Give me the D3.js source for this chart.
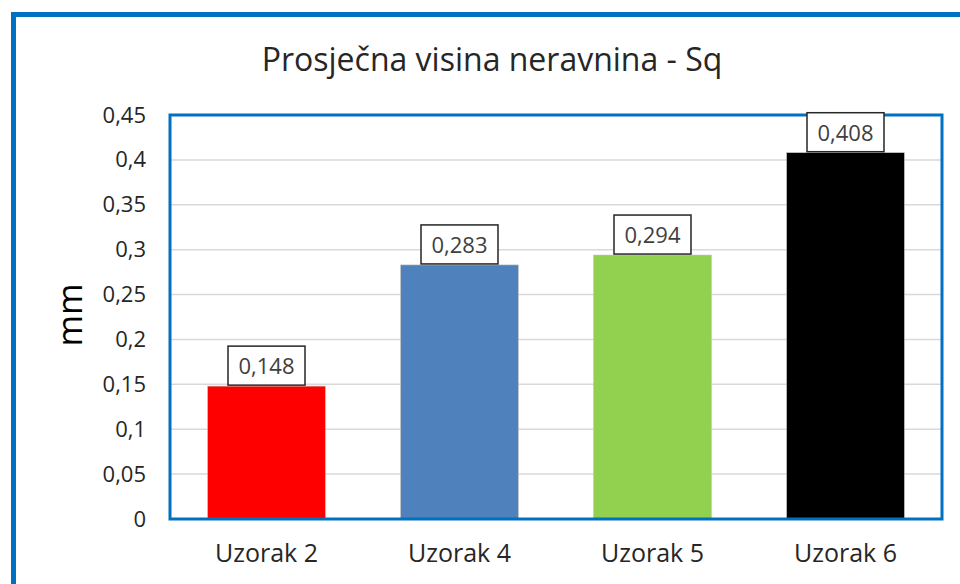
<!DOCTYPE html>
<html>
<head>
<meta charset="utf-8">
<script src="https://cdn.jsdelivr.net/npm/d3@7"></script>
<style>
  body { margin: 0; background: #fff; }
  svg { display: block; font-family: "Open Sans", sans-serif; }
</style>
</head>
<body>
<svg id="chart" width="960" height="584"></svg>
<script>
const categories = ["Uzorak 2", "Uzorak 4", "Uzorak 5", "Uzorak 6"];
const values = [0.148, 0.283, 0.294, 0.408];
const barColors = ["#ff0000", "#4f81bd", "#92d050", "#000000"];
const yTicks = [0, 0.05, 0.1, 0.15, 0.2, 0.25, 0.3, 0.35, 0.4, 0.45];

const svg = d3.select("#chart");
const fmt = v => String(v).replace(".", ",");

// outer chart border
svg.append("rect")
  .attr("x", 13.5).attr("y", 14.5)
  .attr("width", 960).attr("height", 600)
  .attr("fill", "#fff")
  .attr("stroke", "#0070c0")
  .attr("stroke-width", 5);

const plot = { left: 170, right: 942, top: 115, bottom: 519 };

const x = d3.scaleBand()
  .domain(categories)
  .range([plot.left, plot.right])
  .paddingInner(0.39)
  .paddingOuter(0.195);

const y = d3.scaleLinear()
  .domain([0, 0.45])
  .range([plot.bottom, plot.top]);

// gridlines
svg.append("g")
  .selectAll("line")
  .data(yTicks.slice(1))
  .join("line")
  .attr("x1", plot.left).attr("x2", plot.right)
  .attr("y1", d => y(d)).attr("y2", d => y(d))
  .attr("stroke", "#d9d9d9")
  .attr("stroke-width", 1.5);

// bars
svg.append("g")
  .selectAll("rect")
  .data(values)
  .join("rect")
  .attr("x", (d, i) => x(categories[i]))
  .attr("y", d => y(d))
  .attr("width", x.bandwidth())
  .attr("height", d => y(0) - y(d))
  .attr("fill", (d, i) => barColors[i])
  .attr("stroke", "#bfbfbf")
  .attr("stroke-width", 0.6);

// plot area border
svg.append("rect")
  .attr("x", plot.left).attr("y", plot.top)
  .attr("width", plot.right - plot.left)
  .attr("height", plot.bottom - plot.top)
  .attr("fill", "none")
  .attr("stroke", "#0070c0")
  .attr("stroke-width", 3);

// y axis
const yAxis = svg.append("g")
  .attr("transform", `translate(${plot.left},0)`)
  .call(d3.axisLeft(y).tickValues(yTicks).tickFormat(fmt).tickSize(0).tickPadding(24));
yAxis.select(".domain").remove();
yAxis.selectAll("text")
  .attr("font-size", 22)
  .attr("font-family", "'Open Sans', sans-serif")
  .attr("fill", "#262626");

// x axis
const xAxis = svg.append("g")
  .attr("transform", `translate(0,${plot.bottom})`)
  .call(d3.axisBottom(x).tickSize(0).tickPadding(25));
xAxis.select(".domain").remove();
xAxis.selectAll("text")
  .attr("font-size", 25)
  .attr("font-family", "'Open Sans', sans-serif")
  .attr("fill", "#262626");

// data labels
const labels = svg.append("g")
  .selectAll("g")
  .data(values)
  .join("g")
  .attr("transform", (d, i) => `translate(${x(categories[i]) + x.bandwidth() / 2},${y(d)})`);
labels.append("rect")
  .attr("x", -38.5).attr("y", -40)
  .attr("width", 77).attr("height", 39)
  .attr("fill", "#fff")
  .attr("stroke", "#262626")
  .attr("stroke-width", 1.5);
labels.append("text")
  .attr("y", -12)
  .attr("text-anchor", "middle")
  .attr("font-size", 22)
  .attr("fill", "#404040")
  .text(d => fmt(d));

// title
svg.append("text")
  .attr("x", 492).attr("y", 71)
  .attr("text-anchor", "middle")
  .attr("font-size", 32)
  .attr("fill", "#262626")
  .text("Prosječna visina neravnina - Sq");

// y axis title
svg.append("text")
  .attr("transform", "translate(82,315) rotate(-90)")
  .attr("text-anchor", "middle")
  .attr("font-size", 34)
  .attr("fill", "#000")
  .text("mm");
</script>
</body>
</html>
